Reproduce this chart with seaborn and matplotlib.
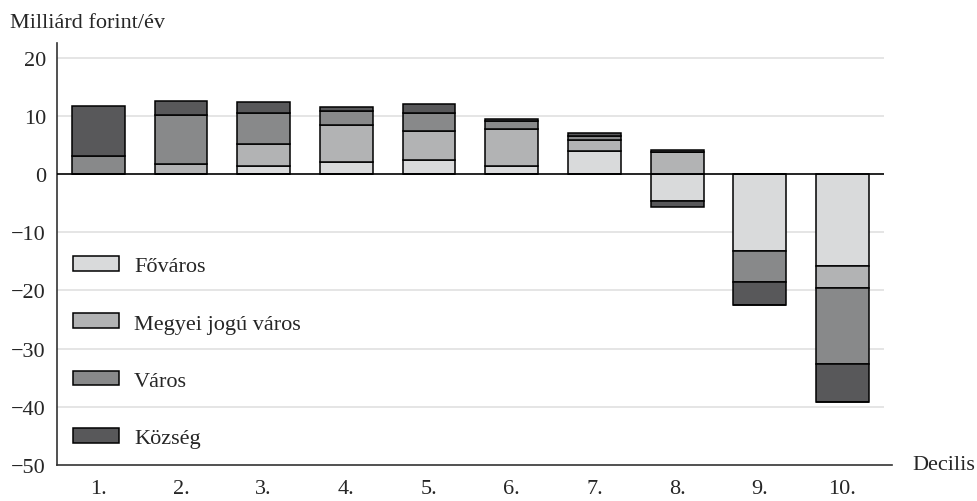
import numpy as np
import pandas as pd
import matplotlib
matplotlib.use("Agg")
import matplotlib.pyplot as plt
import seaborn as sns
from matplotlib.patches import Patch

# data (billion HUF / year)
deciles = ["1.", "2.", "3.", "4.", "5.", "6.", "7.", "8.", "9.", "10."]
fovaros = [0.0, 0.0, 1.4, 2.1, 2.4, 1.4, 3.9, -4.6, -13.3, -15.75]
megyei = [0.0, 1.7, 3.8, 6.3, 4.9, 6.35, 2.0, 3.7, 0.0, -3.9]
varos = [3.1, 8.5, 5.3, 2.5, 3.2, 1.35, 0.7, 0.1, -5.3, -13.05]
kozseg = [8.5, 2.4, 1.9, 0.65, 1.45, 0.4, 0.45, 0.3, -3.9, -6.4]
kozseg_neg8 = -1.0  # decile 8 has a small negative község part as well

series_names = ["Főváros", "Megyei jogú város", "Város", "Község"]
colors = ["#d9dadb", "#b2b3b4", "#88898a", "#58585a"]

sns.set_style("white")
plt.rcParams["font.family"] = ["Liberation Serif", "DejaVu Serif"]
fs = 16
plt.rcParams["font.size"] = fs

fig = plt.figure(figsize=(9.78, 5.02), dpi=100)
# axis line runs a little past the last category boundary, as in the original
ax = fig.add_axes([57 / 978, 1 - 466 / 502, (892 - 57) / 978, (466 - 44) / 502])

# stacking: positive parts build upward from 0, negative parts build downward
pos_cum = np.zeros(len(deciles))
neg_cum = np.zeros(len(deciles))
layers = [fovaros, megyei, varos, kozseg]
for name, vals, col in zip(series_names, layers, colors):
    v = np.array(vals, dtype=float)
    bottom = np.where(v >= 0, pos_cum, neg_cum)
    df = pd.DataFrame({"decilis": deciles, "value": v})
    sns.barplot(data=df, x="decilis", y="value", order=deciles, bottom=bottom,
                color=col, width=0.64, edgecolor="black", linewidth=1.1,
                errorbar=None, saturation=1, ax=ax, zorder=3)
    pos_cum = pos_cum + np.clip(v, 0, None)
    neg_cum = neg_cum + np.clip(v, None, 0)

# extra negative község segment for decile 8
extra = np.zeros(len(deciles))
extra[7] = kozseg_neg8
df = pd.DataFrame({"decilis": deciles, "value": extra})
sns.barplot(data=df, x="decilis", y="value", order=deciles, bottom=neg_cum,
            color=colors[3], width=0.64, edgecolor="black", linewidth=1.1,
            errorbar=None, saturation=1, ax=ax, zorder=3)

n = len(deciles)
ax.set_ylim(-50, 22.5)
ax.set_xlim(-0.5, n - 0.5 + 0.1)
ax.set_yticks(np.arange(-50, 21, 10))
ax.set_yticklabels([f"{t:d}".replace("-", "\u2212") for t in range(-50, 21, 10)])
grid_y = [yv for yv in range(-40, 21, 10) if yv != 0]
ax.hlines(grid_y, -0.5, n - 0.5, color="#e0e0e0", lw=1.2, zorder=1)
ax.hlines(0, -0.5, n - 0.5, color="black", lw=1.2, zorder=4)

ax.set_xlabel("")
ax.set_ylabel("")
ax.set_xticks(np.arange(n))
ax.set_xticklabels(deciles)
ax.set_xticks(np.arange(n) + 0.5, minor=True)
ax.tick_params(axis="x", which="major", length=0, pad=10, labelsize=fs)
ax.tick_params(axis="x", which="minor", length=7, width=1.2, color="#333333", direction="out")
ax.tick_params(axis="y", length=5, width=1.2, color="#333333", direction="out", pad=3, labelsize=fs)

for side in ["top", "right"]:
    ax.spines[side].set_visible(False)
for side in ["left", "bottom"]:
    ax.spines[side].set_color("#333333")
    ax.spines[side].set_linewidth(1.2)

fig.text(10 / 978, 1 - 28 / 502, "Milliárd forint/év", ha="left", va="baseline", fontsize=fs)
fig.text(912 / 978, 1 - 466 / 502, "Decilis", ha="left", va="center", fontsize=fs)

handles = [Patch(facecolor=c, edgecolor="black", linewidth=1.1) for c in colors]
fig.legend(handles, series_names, loc="upper left",
           bbox_to_anchor=(73 / 978, 1 - 257 / 502), bbox_transform=fig.transFigure,
           frameon=False, borderpad=0, borderaxespad=0, handlelength=2.07,
           handleheight=0.63, handletextpad=0.68, labelspacing=1.68, fontsize=fs)

fig.savefig("out.png", dpi=100)
